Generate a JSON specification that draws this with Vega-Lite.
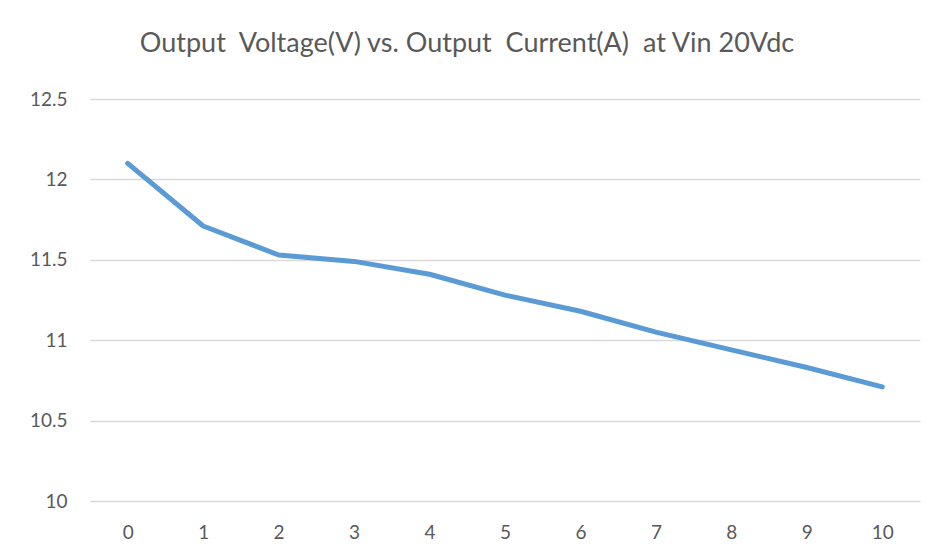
{
  "$schema": "https://vega.github.io/schema/vega-lite/v6.json",
  "autosize": {"type": "none"},
  "width": 830,
  "height": 402,
  "padding": {"left": 90, "top": 99, "right": 15, "bottom": 56},
  "background": "white",
  "config": {"view": {"stroke": null}, "font": "Lato"},
  "title": {
    "text": "Output\u00a0 Voltage(V) vs. Output\u00a0 Current(A)\u00a0 at Vin 20Vdc",
    "font": "Lato",
    "fontSize": 27,
    "fontWeight": "normal",
    "color": "#595959",
    "anchor": "middle",
    "dx": -38,
    "offset": 32,
    "letterSpacing": 2.1
  },
  "data": {
    "values": [
      {"current": 0, "voltage": 12.10},
      {"current": 1, "voltage": 11.71},
      {"current": 2, "voltage": 11.53},
      {"current": 3, "voltage": 11.49},
      {"current": 4, "voltage": 11.41},
      {"current": 5, "voltage": 11.28},
      {"current": 6, "voltage": 11.18},
      {"current": 7, "voltage": 11.05},
      {"current": 8, "voltage": 10.94},
      {"current": 9, "voltage": 10.83},
      {"current": 10, "voltage": 10.71}
    ]
  },
  "mark": {"type": "line", "color": "#5b9bd5", "strokeWidth": 5, "strokeCap": "round", "strokeJoin": "round"},
  "encoding": {
    "x": {
      "field": "current",
      "type": "ordinal",
      "sort": "ascending",
      "scale": {"type": "point", "padding": 0.5},
      "axis": {
        "title": null,
        "labelAngle": 0,
        "labelFont": "Lato",
        "labelFontSize": 19,
        "labelColor": "#595959",
        "labelPadding": 22,
        "ticks": false,
        "domain": false,
        "grid": false
      }
    },
    "y": {
      "field": "voltage",
      "type": "quantitative",
      "scale": {"domain": [10, 12.5], "zero": false, "nice": false},
      "axis": {
        "title": null,
        "values": [10, 10.5, 11, 11.5, 12, 12.5],
        "format": "~g",
        "labelFont": "Lato",
        "labelFontSize": 19,
        "labelColor": "#595959",
        "labelPadding": 23,
        "ticks": false,
        "domain": false,
        "grid": true,
        "gridColor": "#d9d9d9",
        "gridWidth": 1.5
      }
    }
  }
}
